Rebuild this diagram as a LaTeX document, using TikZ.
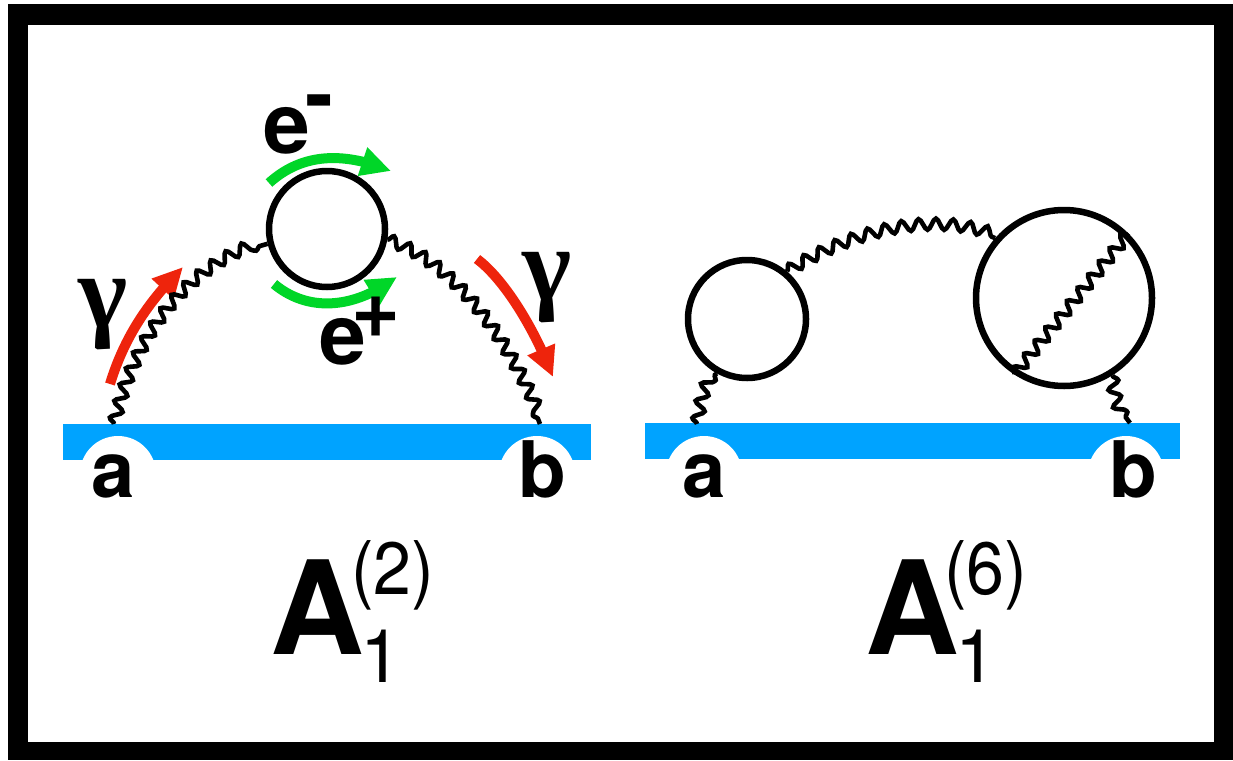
\documentclass[tikz,border=0pt]{standalone}
\usepackage{fontspec}
\setmainfont{TeX Gyre Heros}
\newfontfamily\gam{Liberation Serif}
\usetikzlibrary{decorations.pathmorphing,arrows.meta,bending}
\definecolor{barblue}{RGB}{0,163,255}
\definecolor{arrred}{RGB}{238,36,12}
\definecolor{arrgreen}{RGB}{0,214,40}
\tikzset{
 wig/.style={draw=black,line width=4.6pt,decorate,decoration={snake,amplitude=5.5pt,segment length=17pt}},
 ring/.style={circle,draw=black,line width=6.5pt,fill=white,inner sep=0pt},
 bar/.style={fill=barblue,draw=none},
 notch/.style={fill=white,draw=none},
 redarr/.style={draw=arrred,line width=10pt,-{Triangle[length=30pt,width=28pt,flex]}},
 grnarr/.style={draw=arrgreen,line width=10pt,-{Triangle[length=30pt,width=28pt,flex]}},
 big/.style={font=\fontsize{130}{130}\selectfont\bfseries,anchor=base west,inner sep=0pt},
 mid/.style={font=\fontsize{74}{74}\selectfont,anchor=base west,inner sep=0pt},
 lab/.style={font=\fontsize{78}{78}\selectfont\bfseries,anchor=base,inner sep=0pt},
 elab/.style={font=\fontsize{84}{84}\selectfont\bfseries,anchor=base,inner sep=0pt},
 gamlab/.style={font=\fontsize{105}{105}\gam\bfseries,anchor=base,inner sep=0pt},
}
\begin{document}
\begin{tikzpicture}[x=1pt,y=-1pt]
\useasboundingbox (0,0) rectangle (1233,760);
\fill[white] (0,0) rectangle (1233,760);
\fill[black] (8,4) rectangle (1233,760);
\fill[white] (28,25) rectangle (1214,742);
% bars
\fill[bar] (63,424) rectangle (591,460);
\fill[bar] (645,423) rectangle (1180,459);
\begin{scope}
\clip (28,425) rectangle (1214,500);
\fill[notch] (118,474) circle (38);
\fill[notch] (537,474) circle (38);
\fill[notch] (704,474) circle (38);
\fill[notch] (1126,474) circle (38);
\end{scope}
% left diagram
\coordinate (r1s) at (110,384);
\coordinate (r1e) at (183,267);
\coordinate (r2s) at (477,259);
\coordinate (r2e) at (553,377);
\draw[redarr] (r1s) .. controls (125,335) and (150,300) .. (r1e);
\draw[redarr] (r2s) .. controls (505,280) and (535,330) .. (r2e);
\coordinate (g1s) at (269,183);
\coordinate (g1e) at (391,171);
\coordinate (g2s) at (274,284);
\coordinate (g2e) at (397,277);
\draw[grnarr] (g1s) .. controls (300,155) and (340,150) .. (g1e);
\draw[grnarr] (g2s) .. controls (305,310) and (350,312) .. (g2e);
\node[ring,minimum size=116pt] (c1) at (327,229) {};
\coordinate (a1) at (114,424);
\coordinate (b1) at (540,424);
\draw[wig] (a1) .. controls (135,335) and (190,265) .. (c1.-166);
\draw[wig] (c1.-10) .. controls (450,262) and (505,335) .. (b1);
\node[elab] (em) at (287,153) {e};
\node[elab] (emm) at (319,123) {-};
\node[elab] (ep) at (343,364) {e};
\node[elab] (epp) at (376,337) {+};
\node[gamlab] (g1) at (103,327) {γ};
\node[gamlab] (g2) at (547,300) {γ};
\node[lab] (la1) at (113.5,497) {a};
\node[lab] (lb1) at (542,497) {b};
\node[big] (A1) at (270,654) {A};
\node[mid] (s1) at (360,682) {1};
\node[mid] (p1) at (351,594) {\scalebox{.92}[1]{(2)}};
% right diagram
\node[ring,minimum size=118pt] (c2) at (747,319) {};
\node[ring,minimum size=176pt] (c3) at (1064,298) {};
\coordinate (a2) at (697,424);
\coordinate (b2) at (1130,423);
\draw[wig] (a2) .. controls (700,405) and (704,385) .. (c2.-119);
\draw[wig] (c2.50) .. controls (850,232) and (930,212) .. (c3.139);
\draw[wig] (c3.-123) -- (c3.45);
\draw[wig] (c3.-58) .. controls (1114,395) and (1120,410) .. (b2);
\node[lab] (la2) at (704,497) {a};
\node[lab] (lb2) at (1133,497) {b};
\node[big] (A2) at (865,654) {A};
\node[mid] (s2) at (955,682) {1};
\node[mid] (p2) at (944,594) {\scalebox{.92}[1]{(6)}};
\end{tikzpicture}
\end{document}
